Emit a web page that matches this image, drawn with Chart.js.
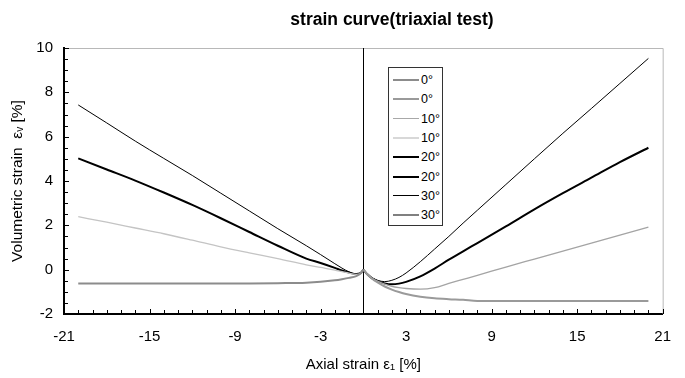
<!DOCTYPE html>
<html>
<head>
<meta charset="utf-8">
<script src="https://cdn.jsdelivr.net/npm/chart.js@4.4.1/dist/chart.umd.min.js"></script>
<style>
  html, body { margin: 0; padding: 0; background: #fff; }
  #wrap { position: relative; width: 685px; height: 378px; font-family: "Liberation Sans", Arial, sans-serif; }
  #titulo { position: absolute; left: 392px; top: 9px; transform: translateX(-50%); white-space: nowrap;
            font-weight: bold; font-size: 17.5px; color: #000; }
  #legenda { position: absolute; left: 388px; top: 67px; width: 53px; height: 157px; border: 1px solid #333; background: #fff; }
  .item { position: absolute; left: 0; height: 16px; font-size: 12.5px; line-height: 16px; }
  .traco { position: absolute; left: 4px; width: 26px; }
  .rotulo { position: absolute; left: 32px; }
</style>
</head>
<body>
<div id="wrap">
  <canvas id="grafico" width="685" height="378"></canvas>
  <div id="titulo">strain curve(triaxial test)</div>
  <div id="legenda"></div>
</div>
<script>
// eixo x de cada lado (compressao / extensao)
const xEsq = [-20, -18, -16, -14, -12, -10, -8, -6, -4, -3, -2, -1.5, -1, -0.5, -0.2, 0];
const xDir = [0, 0.3, 0.6, 1, 1.5, 2, 2.5, 3, 4, 5, 6, 7, 8, 10, 12, 14, 16, 18, 20];

// deformacao volumetrica
const ang0Esq  = [-0.62, -0.62, -0.62, -0.62, -0.62, -0.62, -0.62, -0.61, -0.59, -0.55, -0.48, -0.43, -0.37, -0.29, -0.18, 0];
const ang0Dir  = [0, -0.22, -0.4, -0.58, -0.76, -0.9, -1.01, -1.1, -1.22, -1.29, -1.33, -1.36, -1.41, -1.41, -1.41, -1.41, -1.41, -1.41, -1.41];
const ang10Dir = [0, -0.22, -0.38, -0.52, -0.65, -0.75, -0.81, -0.85, -0.88, -0.81, -0.62, -0.44, -0.26, 0.12, 0.48, 0.84, 1.2, 1.56, 1.92];
const ang10Esq = [2.39, 2.14, 1.88, 1.62, 1.33, 1.03, 0.76, 0.5, 0.22, 0.1, -0.02, -0.09, -0.16, -0.21, -0.16, 0];
const ang20Esq = [5.02, 4.52, 4.02, 3.48, 2.92, 2.32, 1.7, 1.08, 0.5, 0.3, 0.08, -0.04, -0.13, -0.2, -0.16, 0];
const ang20Dir = [0, -0.22, -0.38, -0.52, -0.62, -0.66, -0.63, -0.55, -0.3, 0.05, 0.45, 0.83, 1.2, 1.95, 2.72, 3.45, 4.15, 4.85, 5.5];
const ang30Esq = [7.43, 6.62, 5.8, 5.02, 4.25, 3.45, 2.65, 1.85, 1.08, 0.68, 0.27, 0.07, -0.1, -0.2, -0.16, 0];
const ang30Dir = [0, -0.22, -0.36, -0.48, -0.54, -0.48, -0.35, -0.15, 0.36, 0.93, 1.5, 2.1, 2.68, 3.84, 5.0, 6.15, 7.27, 8.4, 9.53];

const rotulos = ['0°', '0°', '10°', '10°', '20°', '20°', '30°', '30°'];

// monta pares {x, y}
function pares(xs, ys) {
    return xs.map((x, i) => ({ x: x, y: ys[i] }));
}

const series = [
    { dados: pares(xEsq, ang0Esq),  cor: '#8c8c8c', larg: 2 },
    { dados: pares(xDir, ang0Dir),  cor: '#9a9a9a', larg: 2 },
    { dados: pares(xDir, ang10Dir), cor: '#a4a4a4', larg: 1.3 },
    { dados: pares(xEsq, ang10Esq), cor: '#c4c4c4', larg: 1.3 },
    { dados: pares(xEsq, ang20Esq), cor: '#000000', larg: 2 },
    { dados: pares(xDir, ang20Dir), cor: '#000000', larg: 2 },
    { dados: pares(xEsq, ang30Esq), cor: '#000000', larg: 1 },
    { dados: pares(xDir, ang30Dir), cor: '#000000', larg: 1 }
];
// cores so da legenda (a ultima aparece cinza no original)
const coresLegenda = ['#8c8c8c', '#9a9a9a', '#a8a8a8', '#d8d8d8', '#000000', '#000000', '#000000', '#808080'];
const largLegenda = [2, 2, 1, 2, 2, 2, 1, 2];

const datasets = series.map((s, i) => ({
    label: rotulos[i],
    data: s.dados,
    showLine: true,
    borderColor: s.cor,
    borderWidth: s.larg,
    pointRadius: 0,
    cubicInterpolationMode: 'monotone',
    fill: false
}));

// moldura cinza, linha vertical em x=0 e ticks para dentro
const moldura = {
    id: 'moldura',
    beforeDatasetsDraw(chart) {
        const { ctx, chartArea: a, scales: { x, y } } = chart;
        ctx.save();
        ctx.lineWidth = 1;
        ctx.strokeStyle = '#b8b8b8';
        ctx.beginPath();
        ctx.moveTo(a.left, a.top + 0.5);
        ctx.lineTo(a.right + 0.5, a.top + 0.5);
        ctx.lineTo(a.right + 0.5, a.bottom);
        ctx.stroke();

        ctx.strokeStyle = '#000';
        const x0 = Math.round(x.getPixelForValue(0)) + 0.5;
        ctx.beginPath();
        ctx.moveTo(x0, a.top);
        ctx.lineTo(x0, a.bottom);
        ctx.stroke();

        ctx.beginPath();
        for (let v = x.min; v <= x.max; v += 1) {
            const px = Math.round(x.getPixelForValue(v)) + 0.5;
            const len = ((v - x.min) % 6 === 0) ? 5 : 4;
            ctx.moveTo(px, a.bottom);
            ctx.lineTo(px, a.bottom - len);
        }
        for (let v = y.min; v <= y.max; v += 0.5) {
            const py = Math.round(y.getPixelForValue(v)) + 0.5;
            const len = ((v - y.min) % 2 === 0) ? 5 : 4;
            ctx.moveTo(a.left, py);
            ctx.lineTo(a.left + len, py);
        }
        ctx.stroke();
        ctx.restore();
    }
};

new Chart(document.getElementById('grafico').getContext('2d'), {
    type: 'scatter',
    data: { datasets: datasets },
    options: {
        responsive: false,
        animation: false,
        devicePixelRatio: 1,
        layout: { padding: { left: 0, right: 9, top: 48, bottom: 0 } },
        plugins: {
            legend: { display: false },
            title: { display: false },
            tooltip: { enabled: false }
        },
        scales: {
            x: {
                type: 'linear',
                min: -21,
                max: 21,
                afterFit: (s) => { s.height = 64; },
                grid: { display: false, drawTicks: false },
                border: { display: true, color: '#000', width: 2 },
                ticks: { stepSize: 6, padding: 14, color: '#000', maxRotation: 0, autoSkip: false,
                          font: { family: 'Liberation Sans, Arial', size: 15 } },
                title: { display: true, text: 'Axial strain ε₁ [%]', color: '#000', padding: { top: 0, bottom: 4 },
                         font: { family: 'Liberation Sans, Arial', size: 15 } }
            },
            y: {
                type: 'linear',
                min: -2,
                max: 10,
                afterFit: (s) => { s.width = 64; },
                grid: { display: false, drawTicks: false },
                border: { display: true, color: '#000', width: 2 },
                ticks: { stepSize: 2, padding: 11, color: '#000',
                          font: { family: 'Liberation Sans, Arial', size: 15 } },
                title: { display: true, text: 'Volumetric strain  εᵥ [%]', color: '#000', padding: { top: 8, bottom: 0 },
                         font: { family: 'Liberation Sans, Arial', size: 15.5 } }
            }
        }
    },
    plugins: [moldura]
});

// legenda em html dentro da area do grafico
const leg = document.getElementById('legenda');
rotulos.forEach((r, i) => {
    const item = document.createElement('div');
    item.className = 'item';
    item.style.top = (4 + i * 19.3) + 'px';
    item.style.width = '53px';
    const traco = document.createElement('div');
    traco.className = 'traco';
    traco.style.top = (8 - largLegenda[i] / 2) + 'px';
    traco.style.borderTop = largLegenda[i] + 'px solid ' + coresLegenda[i];
    const txt = document.createElement('span');
    txt.className = 'rotulo';
    txt.textContent = r;
    item.appendChild(traco);
    item.appendChild(txt);
    leg.appendChild(item);
});
</script>
</body>
</html>
